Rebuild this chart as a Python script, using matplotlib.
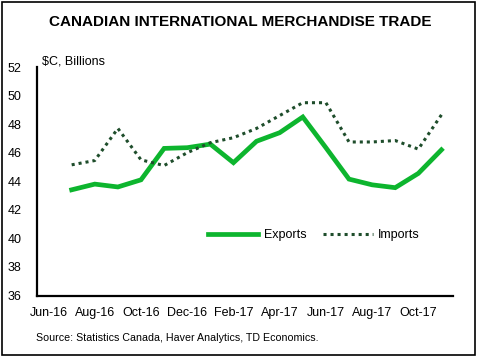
import matplotlib.pyplot as plt
from matplotlib.patches import Rectangle

plt.rcParams['font.family'] = ['Liberation Sans', 'DejaVu Sans']

# months Jul-16 .. Nov-17
months = ['Jul-16', 'Aug-16', 'Sep-16', 'Oct-16', 'Nov-16', 'Dec-16', 'Jan-17', 'Feb-17', 'Mar-17',
          'Apr-17', 'May-17', 'Jun-17', 'Jul-17', 'Aug-17', 'Sep-17', 'Oct-17', 'Nov-17']
exports = [43.4, 43.8, 43.6, 44.1, 46.3, 46.35, 46.6, 45.3, 46.8,
           47.4, 48.5, 46.35, 44.15, 43.75, 43.55, 44.55, 46.2]
imports = [45.15, 45.45, 47.7, 45.5, 45.1, 46.0, 46.7, 47.05, 47.7,
           48.6, 49.5, 49.5, 46.75, 46.75, 46.85, 46.25, 48.65]
tick_labels = ['Jun-16', 'Aug-16', 'Oct-16', 'Dec-16', 'Feb-17', 'Apr-17', 'Jun-17', 'Aug-17', 'Oct-17']

fig = plt.figure(figsize=(4.82, 3.6), dpi=100)
ax = fig.add_axes([37/482, 1-295.5/360, 416/482, 228.5/360])

x = list(range(1, len(months) + 1))
ax.plot(x, exports, color='#0DB52E', lw=3.4, label='Exports', solid_joinstyle='miter')
ax.plot(x, imports, color='#1E4D2B', lw=2.2, dashes=[1, 1.3], label='Imports')

ax.set_xlim(-0.5, 17.5)
ax.set_ylim(36, 52)
ax.set_yticks(range(36, 53, 2))
ax.set_xticks(range(0, 17, 2))
ax.set_xticklabels(tick_labels)
ax.tick_params(length=0, labelsize=9, pad=8)
ax.tick_params(axis='y', pad=11)
for s in ['top', 'right']:
    ax.spines[s].set_visible(False)
for s in ['left', 'bottom']:
    ax.spines[s].set_linewidth(1.6)

ax.text(42/482, 1-61/360, '$C, Billions', transform=fig.transFigure, fontsize=9, va='center', ha='left')
fig.text(240/482, 1-22/360, 'CANADIAN INTERNATIONAL MERCHANDISE TRADE', fontsize=11,
         fontweight='bold', ha='center', va='center')
fig.text(36/482, 1-338/360, 'Source: Statistics Canada, Haver Analytics, TD Economics.',
         fontsize=7.7, ha='left', va='center')

ax.legend(loc='center', bbox_to_anchor=(0.666, 0.265), ncol=2, frameon=False, fontsize=9,
          handlelength=4.0, columnspacing=1.3, handletextpad=0.45)

fig.patches.append(Rectangle((2/482, 1-355/360), 473/482, 353/360, transform=fig.transFigure,
                             fill=False, edgecolor='black', lw=1.2))

fig.savefig('out.png', dpi=100)
